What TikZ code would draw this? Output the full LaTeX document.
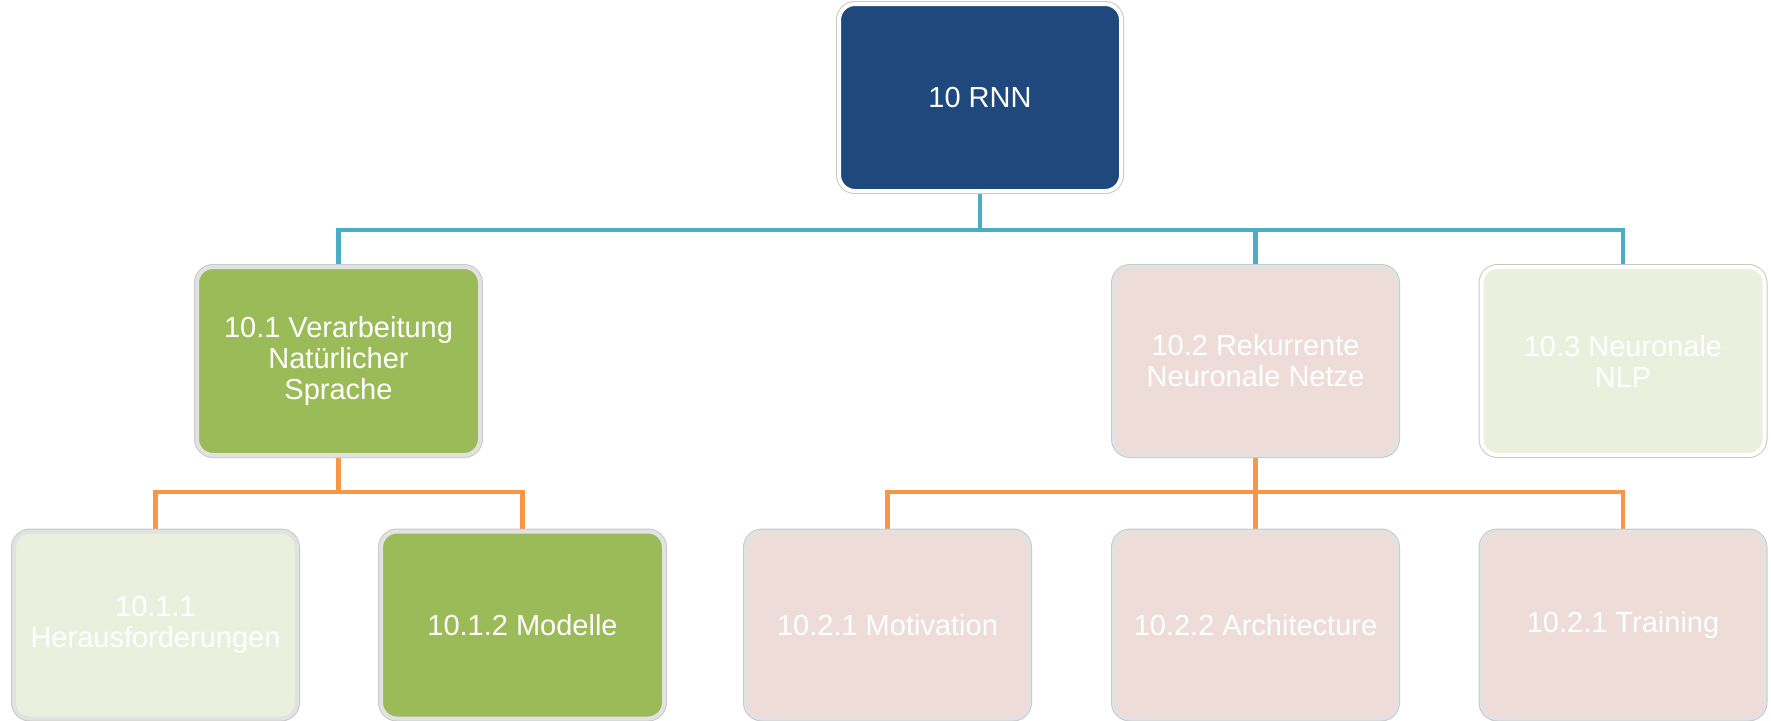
\documentclass[tikz,border=0pt]{standalone}
\usepackage{fontspec}
\setmainfont{Liberation Sans}
\usetikzlibrary{backgrounds}
\definecolor{rootblue}{HTML}{1F497D}
\definecolor{olive}{HTML}{9BBB59}
\definecolor{palegreen}{HTML}{EBF0DE}
\definecolor{palepink}{HTML}{EEDCD8}
\definecolor{busblue}{HTML}{4BACC6}
\definecolor{busorange}{HTML}{F79646}
\definecolor{rimgrey}{HTML}{E2E2E2}
\definecolor{edgegrey}{HTML}{C8C8C8}
\tikzset{
  box/.style={rounded corners=16pt, line width=4pt, text=white, align=center,
    font=\fontsize{29}{31}\selectfont, inner sep=0pt,
    preaction={draw=edgegrey, line width=6pt}},
  greyrim/.style={box, draw=rimgrey},
  whiterim/.style={box, draw=white},
  lvltwo/.style={minimum width=283pt, minimum height=188pt},
  lvlthree/.style={minimum width=283pt, minimum height=187pt},
  conn/.style={line width=4.5pt},
}
\begin{document}
\begin{tikzpicture}[x=1pt,y=-1pt]
\useasboundingbox (0,0) rectangle (1771,720);
\node[whiterim, fill=rootblue, minimum width=282pt, minimum height=187pt] (root) at (980,97.5) {10 RNN};
\node[greyrim, lvltwo, fill=olive] (n1) at (338.5,361) {10.1 Verarbeitung\\Natürlicher\\Sprache};
\node[greyrim, lvltwo, fill=palepink] (n2) at (1255.5,361) {10.2 Rekurrente\\Neuronale Netze};
\node[whiterim, lvltwo, fill=palegreen] (n3) at (1623,361) {10.3 Neuronale\\NLP};
\node[greyrim, lvlthree, fill=palegreen] (n11) at (155.5,625) {10.1.1\\Herausforderungen};
\node[greyrim, lvlthree, fill=olive] (n12) at (522.5,625) {10.1.2 Modelle};
\node[greyrim, lvlthree, fill=palepink] (n21) at (887.5,625) {10.2.1 Motivation};
\node[greyrim, lvlthree, fill=palepink] (n22) at (1255.5,625) {10.2.2 Architecture};
\node[greyrim, lvlthree, fill=palepink] (n23) at (1623,625) {10.2.1 Training};
\coordinate (busA) at (980,230);
\coordinate (busB) at (338.5,492);
\coordinate (busC) at (1255.5,492);
\begin{scope}[on background layer]
\draw[conn, busblue] (root.south) -- (busA);
\draw[conn, busblue] (busA) -| (n1.north);
\draw[conn, busblue] (busA) -| (n2.north);
\draw[conn, busblue] (busA) -| (n3.north);
\draw[conn, busorange] (n1.south) -- (busB);
\draw[conn, busorange] (busB) -| (n11.north);
\draw[conn, busorange] (busB) -| (n12.north);
\draw[conn, busorange] (n2.south) -- (busC);
\draw[conn, busorange] (busC) -| (n21.north);
\draw[conn, busorange] (busC) -| (n22.north);
\draw[conn, busorange] (busC) -| (n23.north);
\end{scope}
\end{tikzpicture}
\end{document}
